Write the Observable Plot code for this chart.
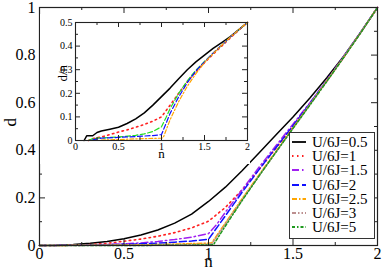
<!DOCTYPE html>
<html><head><meta charset="utf-8">
<script src="https://cdn.jsdelivr.net/npm/d3@7"></script>
<script src="https://cdn.jsdelivr.net/npm/@observablehq/plot@0.6"></script>
<style>
body{margin:0;background:#fff;}
#wrap{position:relative;width:382px;height:272px;}
#inset{position:absolute;left:40px;top:14px;}
#legend{position:absolute;left:289px;top:132px;width:84px;height:103px;border:1.3px solid #333;background:#fff;box-sizing:content-box;padding-top:2px;}
.row{display:flex;align-items:center;height:14.2px;font-size:15px;line-height:14px;color:#000;font-family:"Liberation Serif",serif;white-space:nowrap;}
.row svg{margin-left:2px;margin-right:6px;flex:none;}
svg.mainplot, svg.mainplot text, svg.insetplot, svg.insetplot text{font-family:"Liberation Serif",serif !important;}
svg.mainplot text{font-size:16px !important;}
svg.mainplot g[aria-label="text"] text{font-size:17px !important;}
svg.insetplot text{font-size:10px !important;}
svg.insetplot g[aria-label="text"] text{font-size:13px !important;}
</style></head>
<body><div id="wrap"><div id="main"></div><div id="inset"></div><div id="legend"></div></div>
<script>
// ---------- data: main panel (d vs n) ----------
const seriesLabels = ["U/6J=0.5","U/6J=1","U/6J=1.5","U/6J=2","U/6J=2.5","U/6J=3","U/6J=5"];
const n05 = [0,0.1,0.2,0.3,0.4,0.5,0.6,0.7,0.8,0.9,1.0,1.1,1.2,1.3,1.4,1.5,1.6,1.7,1.8,1.9,2.0];
const d05 = [0,0.001,0.004,0.009,0.017,0.028,0.044,0.065,0.094,0.132,0.185,0.245,0.315,0.39,0.465,0.54,0.62,0.705,0.795,0.895,1.0];
const n1 = [0,0.1,0.2,0.3,0.4,0.5,0.6,0.7,0.8,0.9,1.0,1.1,1.2,1.3,1.4,1.5,1.6,1.7,1.8,1.9,2.0];
const d1 = [0,0,0.001,0.004,0.009,0.018,0.027,0.039,0.054,0.074,0.102,0.16,0.235,0.32,0.41,0.5,0.595,0.69,0.79,0.895,1.0];
const n15 = [0,0.2,0.4,0.5,0.6,0.7,0.8,0.9,1.0,1.05,1.1,1.2,1.3,1.4,1.5,1.6,1.7,1.8,1.9,2.0];
const d15 = [0,0.001,0.004,0.007,0.011,0.017,0.025,0.035,0.05,0.09,0.14,0.235,0.33,0.42,0.51,0.6,0.695,0.795,0.895,1.0];
const n2 = [0,0.2,0.4,0.5,0.6,0.7,0.8,0.9,1.0,1.1,1.2,1.3,1.4,1.5,1.6,1.7,1.8,1.9,2.0];
const d2 = [0,0.001,0.003,0.005,0.007,0.01,0.014,0.019,0.026,0.125,0.225,0.32,0.412,0.503,0.597,0.693,0.793,0.895,1.0];
const n25 = [0,0.3,0.5,0.7,0.9,1.0,1.02,1.1,1.2,1.3,1.4,1.5,1.6,1.7,1.8,1.9,2.0];
const d25 = [0,0.001,0.002,0.004,0.008,0.01,0.012,0.095,0.198,0.298,0.396,0.495,0.593,0.692,0.792,0.894,1.0];
const n3 = [0,0.5,0.8,1.0,1.02,1.1,1.2,1.3,1.4,1.5,1.6,1.7,1.8,1.9,2.0];
const d3v = [0,0.001,0.003,0.005,0.007,0.09,0.193,0.294,0.393,0.492,0.591,0.69,0.791,0.894,1.0];
const n5 = [0,0.5,0.8,1.0,1.03,1.1,1.2,1.3,1.4,1.5,1.6,1.7,1.8,1.9,2.0];
const d5 = [0,0,0.001,0.002,0.004,0.082,0.19,0.293,0.393,0.492,0.59,0.689,0.79,0.893,1.0];

// ---------- data: inset (d/n vs n) ----------
const inN05 = [0.1,0.13,0.16,0.2,0.25,0.3,0.4,0.5,0.6,0.7,0.8,0.9,1.0,1.1,1.2,1.3,1.4,1.5,1.6,1.7,1.8,1.9,2.0];
const inR05 = [0,0.02,0.02,0.02,0.034,0.04,0.048,0.056,0.072,0.092,0.117,0.15,0.186,0.222,0.262,0.3,0.333,0.362,0.39,0.415,0.44,0.47,0.5];
const inN1 = [0.15,0.2,0.3,0.4,0.5,0.6,0.7,0.8,0.9,1.0,1.1,1.2,1.3,1.4,1.5,1.6,1.7,1.8,1.9,2.0];
const inR1 = [0,0.008,0.015,0.025,0.036,0.045,0.056,0.068,0.082,0.1,0.15,0.2,0.248,0.292,0.33,0.366,0.4,0.435,0.468,0.5];
const inN15 = [0.15,0.2,0.3,0.5,0.7,0.8,0.9,1.0,1.05,1.1,1.2,1.3,1.4,1.5,1.6,1.7,1.8,1.9,2.0];
const inR15 = [0,0.008,0.011,0.015,0.022,0.028,0.038,0.058,0.095,0.135,0.2,0.253,0.298,0.335,0.37,0.404,0.438,0.47,0.5];
const inN2 = [0.2,0.3,0.5,0.7,0.9,1.0,1.1,1.2,1.3,1.4,1.5,1.6,1.7,1.8,1.9,2.0];
const inR2 = [0.003,0.01,0.013,0.017,0.021,0.025,0.115,0.185,0.245,0.295,0.333,0.37,0.404,0.438,0.47,0.5];
const inN25 = [0.3,0.5,0.7,0.9,1.0,1.02,1.1,1.2,1.3,1.4,1.5,1.6,1.7,1.8,1.9,2.0];
const inR25 = [0.002,0.004,0.007,0.009,0.01,0.012,0.088,0.165,0.23,0.283,0.33,0.368,0.404,0.438,0.47,0.5];

// ---------- ticks ----------
const xMajor = [0,0.5,1,1.5,2];
const xMinor = [0.25,0.75,1.25,1.75];
const yMajor = [0,0.2,0.4,0.6,0.8,1];
const yMinor = [0.1,0.3,0.5,0.7,0.9];
const inYMajor = [0,0.1,0.2,0.3,0.4,0.5];
const inYMinor = [0.05,0.15,0.25,0.35,0.45];

const styles = [
  {stroke:"#000000", dash:null, w:1.5},
  {stroke:"#ff2020", dash:"1.5 3.5", w:1.6},
  {stroke:"#a020f0", dash:"7 3 1.5 3", w:1.5},
  {stroke:"#1010ff", dash:"7 3", w:1.5},
  {stroke:"#ffa500", dash:"5 2 1.5 2", w:1.5},
  {stroke:"#bc8f8f", dash:"4 2 1.5 2 1.5 2", w:1.5},
  {stroke:"#1e9a1e", dash:"3 2 1.5 2", w:1.5}
];
const insetStyles = [
  styles[0], styles[1],
  {stroke:"#22dd22", dash:"5 2.5", w:1.2},
  {stroke:"#1010ff", dash:"5 2.5", w:1.2},
  {stroke:"#ffa500", dash:"4 2 1.5 2", w:1.2}
];

const mainNs = [n05,n1,n15,n2,n25,n3,n5];
const mainDs = [d05,d1,d15,d2,d25,d3v,d5];
const inNs = [inN05,inN1,inN15,inN2,inN25];
const inRs = [inR05,inR1,inR15,inR2,inR25];

function rows(ns, vs){ return ns.map((n,i)=>({n, v: vs[i]})); }
function fmt(d){ return String(d); }

// ---------- main plot ----------
const W=382, H=272, mL=39, mR=5, mT=7, mB=27;
const iH = H-mT-mB, iW = W-mL-mR;
const mainMarks = [];
mainDs.forEach((ds,k)=>{
  const s = styles[k];
  mainMarks.push(Plot.line(rows(mainNs[k], ds), {x:"n", y:"v", stroke:s.stroke, strokeWidth:s.w, strokeDasharray:s.dash}));
});
mainMarks.push(
  Plot.frame({stroke:"#222", strokeWidth:1.2}),
  Plot.tickX(xMajor, {x:d=>d, insetTop:iH-6, stroke:"#222"}),
  Plot.tickX(xMinor, {x:d=>d, insetTop:iH-3, stroke:"#222"}),
  Plot.tickX(xMajor, {x:d=>d, insetBottom:iH-6, stroke:"#222"}),
  Plot.tickX(xMinor, {x:d=>d, insetBottom:iH-3, stroke:"#222"}),
  Plot.tickY(yMajor, {y:d=>d, insetRight:iW-6, stroke:"#222"}),
  Plot.tickY(yMinor, {y:d=>d, insetRight:iW-3, stroke:"#222"}),
  Plot.tickY(yMajor, {y:d=>d, insetLeft:iW-6, stroke:"#222"}),
  Plot.tickY(yMinor, {y:d=>d, insetLeft:iW-3, stroke:"#222"}),
  Plot.axisX({ticks:xMajor, tickSize:0, tickPadding:2, tickFormat:fmt, label:null}),
  Plot.axisY({ticks:yMajor, tickSize:0, tickPadding:4, tickFormat:fmt, label:null}),
  Plot.text(["n"], {frameAnchor:"bottom", dy:21}),
  Plot.text(["d"], {frameAnchor:"left", dx:-29, rotate:-90})
);
const mainPlot = Plot.plot({
  className:"mainplot",
  width:W, height:H, marginLeft:mL, marginRight:mR, marginTop:mT, marginBottom:mB,
  x:{domain:[0,2]}, y:{domain:[0,1]},
  style:{background:"transparent", color:"#000"},
  marks: mainMarks
});
document.getElementById("main").append(mainPlot);

// ---------- inset ----------
const IW=210, IH=150, imL=35, imR=3, imT=8, imB=24;
const iiH = IH-imT-imB, iiW = IW-imL-imR;
const inMarks = [];
inRs.forEach((rs,k)=>{
  const s = insetStyles[k];
  inMarks.push(Plot.line(rows(inNs[k], rs), {x:"n", y:"v", stroke:s.stroke, strokeWidth:s.w, strokeDasharray:s.dash}));
});
inMarks.push(
  Plot.frame({stroke:"#222", strokeWidth:1.1}),
  Plot.tickX(xMajor, {x:d=>d, insetTop:iiH-5, stroke:"#222"}),
  Plot.tickX(xMinor, {x:d=>d, insetTop:iiH-3, stroke:"#222"}),
  Plot.tickX(xMajor, {x:d=>d, insetBottom:iiH-5, stroke:"#222"}),
  Plot.tickX(xMinor, {x:d=>d, insetBottom:iiH-3, stroke:"#222"}),
  Plot.tickY(inYMajor, {y:d=>d, insetRight:iiW-5, stroke:"#222"}),
  Plot.tickY(inYMinor, {y:d=>d, insetRight:iiW-3, stroke:"#222"}),
  Plot.tickY(inYMajor, {y:d=>d, insetLeft:iiW-5, stroke:"#222"}),
  Plot.tickY(inYMinor, {y:d=>d, insetLeft:iiW-3, stroke:"#222"}),
  Plot.axisX({ticks:xMajor, tickSize:0, tickPadding:2, tickFormat:fmt, label:null}),
  Plot.axisY({ticks:inYMajor, tickSize:0, tickPadding:3, tickFormat:fmt, label:null}),
  Plot.text(["n"], {frameAnchor:"bottom", dy:17}),
  Plot.text(["d/n"], {frameAnchor:"left", dx:-13, rotate:-90})
);
const insetPlot = Plot.plot({
  className:"insetplot",
  width:IW, height:IH, marginLeft:imL, marginRight:imR, marginTop:imT, marginBottom:imB,
  x:{domain:[0,2]}, y:{domain:[0,0.5]},
  style:{background:"#fff", color:"#000"},
  marks: inMarks
});
document.getElementById("inset").append(insetPlot);

// ---------- legend (plain DOM) ----------
const NS = "http://www.w3.org/2000/svg";
const legendEl = document.getElementById("legend");
seriesLabels.forEach((lab,k)=>{
  const s = styles[k];
  const row = document.createElement("div");
  row.className = "row";
  const sv = document.createElementNS(NS, "svg");
  sv.setAttribute("width", 14); sv.setAttribute("height", 6);
  const ln = document.createElementNS(NS, "line");
  ln.setAttribute("x1", 0); ln.setAttribute("x2", 14);
  ln.setAttribute("y1", 3); ln.setAttribute("y2", 3);
  ln.setAttribute("stroke", s.stroke);
  ln.setAttribute("stroke-width", s.w + 0.3);
  if (s.dash) ln.setAttribute("stroke-dasharray", s.dash);
  sv.appendChild(ln);
  const sp = document.createElement("span");
  sp.textContent = lab;
  row.appendChild(sv); row.appendChild(sp);
  legendEl.appendChild(row);
});
</script></body></html>
